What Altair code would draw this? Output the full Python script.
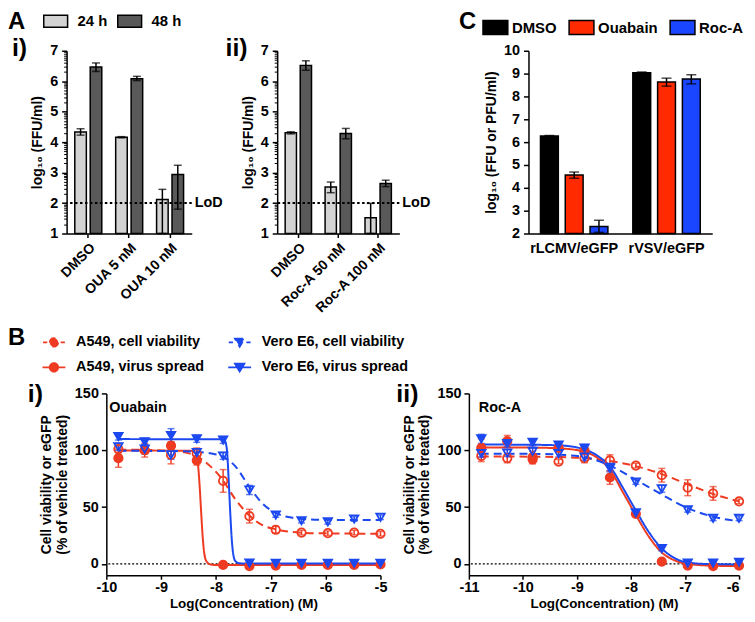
import math
import altair as alt
import pandas as pd

FONT = "Liberation Sans"
RED = "#EE3B22"
BLUE = "#1C48F0"
C_RED = "#FF2A00"
C_BLUE = "#1B46FF"
LIGHT = "#D3D3D3"
DARK = "#595959"

# ---------------- Panel A data ----------------
a_times = ["24 h", "48 h"]
a1_cats = ["DMSO", "OUA 5 nM", "OUA 10 nM"]
a1_24 = [4.33, 4.16, 2.12]
a1_24_lo = [4.23, 4.14, 1.00]
a1_24_hi = [4.44, 4.18, 2.45]
a1_48 = [6.47, 6.08, 2.94]
a1_48_lo = [6.32, 6.02, 1.80]
a1_48_hi = [6.60, 6.16, 3.24]

a2_cats = ["DMSO", "Roc-A 50 nM", "Roc-A 100 nM"]
a2_24 = [4.31, 2.53, 1.52]
a2_24_lo = [4.27, 2.34, 1.00]
a2_24_hi = [4.34, 2.69, 1.99]
a2_48 = [6.52, 4.28, 2.64]
a2_48_lo = [6.36, 4.11, 2.54]
a2_48_hi = [6.67, 4.45, 2.75]

a_lod = [2]
a_major = [1, 2, 3, 4, 5, 6, 7]
a_minor = [n + math.log10(k) for n in range(1, 7) for k in range(2, 10)]

# ---------------- Panel C data ----------------
c_viruses = ["rLCMV/eGFP", "rVSV/eGFP"]
c_treat = ["DMSO", "Ouabain", "Roc-A"]
c_lcmv = [6.27, 4.56, 2.31]
c_lcmv_lo = [6.25, 4.42, 2.05]
c_lcmv_hi = [6.29, 4.69, 2.58]
c_vsv = [9.04, 8.63, 8.76]
c_vsv_lo = [9.01, 8.45, 8.55]
c_vsv_hi = [9.07, 8.80, 8.95]
c_major = [2, 3, 4, 5, 6, 7, 8, 9, 10]

# ---------------- Panel B data ----------------
# legend is filled column by column: A549 entries left, Vero E6 entries right
b_series = ["A549, cell viability", "A549, virus spread",
            "Vero E6, cell viability", "Vero E6, virus spread"]
b_colors = [RED, RED, BLUE, BLUE]
b_fills = ["transparent", RED, "transparent", BLUE]
b_dashes = [[8, 5], [1, 0], [8, 5], [1, 0]]

oua_x = [-9.78, -9.30, -8.82, -8.35, -7.87, -7.39, -6.91, -6.44, -5.96, -5.48, -5.00]
oua_a549_viab = [101, 100, 96, 97, 73, 42, 30, 27.5, 27, 27.5, 26.5]
oua_a549_viab_err = [3, 6, 8, 5, 10, 6, 3, 2, 2, 2, 2]
oua_vero_viab = [103, 101, 96, 98, 95, 65, 43, 38, 37, 39.5, 41]
oua_vero_viab_err = [3, 4, 4, 3, 3, 4, 2, 2, 2, 2, 2]
oua_a549_spread = [93, 100, 104, 91, -1, -2, -1.5, -1, -1, -1, -0.5]
oua_a549_spread_err = [8, 3, 3, 4, 1, 1, 1, 1, 1, 1, 1]
oua_vero_spread = [112, 107.5, 113, 110, 109, 0.6, 0.5, 0.5, 0.5, 0.5, 0.5]
oua_vero_spread_err = [3, 3, 6, 3, 3, 1, 1, 1, 1, 1, 1]

# fitted curves (x, y)
oua_fit_a549_viab_x = [-9.78, -9.30, -8.84, -8.60, -8.37, -8.14, -7.88, -7.65, -7.40, -7.17, -6.92, -6.60, -6.20, -5.00]
oua_fit_a549_viab_y = [100.5, 100.3, 99.6, 98.5, 95, 87.5, 74, 57, 43, 34.5, 30.5, 28, 27, 26.5]
oua_fit_vero_viab_x = [-9.78, -8.60, -8.37, -8.10, -7.88, -7.65, -7.40, -7.17, -6.92, -6.60, -6.20, -5.00]
oua_fit_vero_viab_y = [99.5, 99.2, 98.6, 97.3, 94.5, 86, 68.5, 54, 45, 40.5, 38.9, 38.5]
oua_fit_a549_spread_x = [-9.78, -8.50, -8.40, -8.36, -8.33, -8.30, -8.27, -8.24, -8.21, -8.17, -8.10, -8.00, -5.00]
oua_fit_a549_spread_y = [99.7, 99.6, 98.8, 96, 88, 70, 45, 22, 8, 2, -0.5, -1, -1]
oua_fit_vero_spread_x = [-9.78, -7.90, -7.84, -7.80, -7.77, -7.74, -7.71, -7.68, -7.64, -7.58, -7.50, -5.00]
oua_fit_vero_spread_y = [109.8, 109.6, 108.5, 100, 75, 45, 20, 7, 2, 0.6, 0.3, 0.3]

roc_x = [-10.77, -10.29, -9.82, -9.34, -8.86, -8.39, -7.91, -7.43, -6.95, -6.48, -6.00]
roc_a549_viab = [95, 93, 94, 90, 93, 91, 86.5, 78, 67, 62, 55]
roc_a549_viab_err = [5, 4, 5, 2, 4, 5, 2, 6, 7, 6, 2]
roc_vero_viab = [97, 97.5, 99, 97, 94, 85, 72, 66, 47.5, 40, 40]
roc_vero_viab_err = [3, 3, 3, 3, 3, 3, 2, 3, 2, 2, 2]
roc_a549_spread = [102, 108, 92, 102, 100, 76, 44, 2, -1.5, -2, -1.5]
roc_a549_spread_err = [8, 5, 4, 3, 3, 6, 2, 1, 1, 1, 1]
roc_vero_spread = [110, 106, 107, 104.5, 102, 84, 45, 13.5, 0.6, 0.6, 1.4]
roc_vero_spread_err = [4, 3, 3, 3, 3, 3, 2, 2, 1, 1, 1]

roc_fit_x = [-10.78, -9.80, -9.30, -8.85, -8.60, -8.37, -8.15, -7.91, -7.67, -7.43, -7.19, -6.95, -6.50, -6.00]
roc_fit_a549_spread_y = [102.5, 102.3, 101.6, 98.5, 92.5, 81.5, 63, 43, 24, 10, 3, 0, -1.6, -2]
roc_fit_vero_spread_y = [105, 104.8, 104.2, 100.5, 94.5, 84.5, 67, 47, 28, 13.5, 5, 1.2, -0.3, -0.5]
roc_fit_viab_x = [-10.78, -9.80, -9.30, -8.86, -8.39, -7.91, -7.43, -6.95, -6.48, -6.00]
roc_fit_a549_viab_y = [94.5, 94.3, 94, 93, 90.5, 86, 79, 70, 61.5, 55]
roc_fit_vero_viab_y = [97, 96.8, 96, 94, 86.5, 74, 61, 49, 41.5, 37.5]


def panel_label(text, x, y, size=25):
    return alt.Chart(pd.DataFrame({"t": [text]})).mark_text(
        text=text, font=FONT, fontSize=size, fontWeight="bold",
        align="left", baseline="alphabetic", color="black"
    ).encode(x=alt.value(x), y=alt.value(y))


def rect_path(w, h):
    return "M-%s,-%s H%s V%s H-%s Z" % (w, h, w, h, w)


# ---------------- Panel A ----------------
def a_panel(cats, v24, lo24, hi24, v48, lo48, hi48, width, labels, legend):
    rows = []
    for i, c in enumerate(cats):
        rows.append({"cat": c, "time": a_times[0], "v": v24[i], "lo": lo24[i], "hi": hi24[i]})
        rows.append({"cat": c, "time": a_times[1], "v": v48[i], "lo": lo48[i], "hi": hi48[i]})
    df = pd.DataFrame(rows)
    yscale = alt.Scale(domain=[1, 7], nice=False, zero=False)
    yaxis = alt.Axis(values=a_major, title="log₁₀ (FFU/ml)", tickSize=5,
                     labelPadding=4, titlePadding=5, format="d")
    xaxis = alt.Axis(title=None, labelAngle=-45, labelAlign="right", labelBaseline="top",
                     tickSize=4, labelPadding=3, labelFontSize=14)
    xenc = alt.X("cat:N", sort=cats,
                 scale=alt.Scale(type="band", domain=cats, paddingInner=0.34, paddingOuter=0.2),
                 axis=xaxis)
    xoff = alt.XOffset("time:N", sort=a_times,
                       scale=alt.Scale(type="band", domain=a_times, paddingInner=0.25, paddingOuter=0))
    base = alt.Chart(df)
    bars = base.mark_bar(stroke="black", strokeWidth=1.5).encode(
        x=xenc, xOffset=xoff,
        y=alt.Y("v:Q", scale=yscale, axis=yaxis), y2=alt.datum(1),
        color=alt.Color("time:N", sort=a_times, scale=alt.Scale(domain=a_times, range=[LIGHT, DARK]),
                        legend=legend),
    )
    err = base.mark_rule(color="black", strokeWidth=1.5).encode(
        x=xenc, xOffset=xoff, y=alt.Y("lo:Q", scale=yscale, axis=None), y2="hi:Q")
    cap_lo = base.mark_tick(orient="horizontal", color="black", size=8, thickness=1.5).encode(
        x=xenc, xOffset=xoff, y=alt.Y("lo:Q", scale=yscale, axis=None))
    cap_hi = base.mark_tick(orient="horizontal", color="black", size=8, thickness=1.5).encode(
        x=xenc, xOffset=xoff, y=alt.Y("hi:Q", scale=yscale, axis=None))
    lod_df = pd.DataFrame({"lod": a_lod})
    lod = alt.Chart(lod_df).mark_rule(color="black", strokeWidth=2, strokeDash=[2.5, 2.5]).encode(
        y=alt.Y("lod:Q", scale=yscale,
                axis=alt.Axis(values=a_minor, labels=False, domain=False, tickSize=3,
                              tickWidth=1, title=None, orient="left")))
    lod_text = alt.Chart(lod_df).mark_text(
        text="LoD", align="left", baseline="middle", font=FONT, fontSize=14.5,
        fontWeight="bold", color="black"
    ).encode(x=alt.value(width + 3), y=alt.Y("lod:Q", scale=yscale, axis=None))
    layers = [bars, err, cap_lo, cap_hi, lod, lod_text] + labels
    return alt.layer(*layers).resolve_axis(y="independent").properties(width=width, height=184)


# drawn square 24x12 inside a 15px layout box
a_legend = alt.Legend(
    title=None, orient="none", legendX=-19.5, legendY=-38.5, direction="horizontal",
    symbolType=rect_path(1.6, 0.8), symbolSize=225, symbolStrokeColor="black", symbolStrokeWidth=1.5,
    labelFont=FONT, labelFontSize=15, labelFontWeight="bold", labelColor="black",
    labelOffset=13.5, columnPadding=6.5, padding=0,
)

a_i = a_panel(a1_cats, a1_24, a1_24_lo, a1_24_hi, a1_48, a1_48_lo, a1_48_hi, 126,
              [panel_label("A", -59, -22, 24), panel_label("i)", -55, 5)], a_legend)
a_ii = a_panel(a2_cats, a2_24, a2_24_lo, a2_24_hi, a2_48, a2_48_lo, a2_48_hi, 123,
               [panel_label("ii)", -52, 5)], None)

# ---------------- Panel C ----------------
c_rows = []
for i, t in enumerate(c_treat):
    c_rows.append({"virus": c_viruses[0], "treat": t, "v": c_lcmv[i], "lo": c_lcmv_lo[i], "hi": c_lcmv_hi[i]})
for i, t in enumerate(c_treat):
    c_rows.append({"virus": c_viruses[1], "treat": t, "v": c_vsv[i], "lo": c_vsv_lo[i], "hi": c_vsv_hi[i]})
c_df = pd.DataFrame(c_rows)
c_yscale = alt.Scale(domain=[2, 10], nice=False, zero=False)
c_yaxis = alt.Axis(values=c_major, title="log₁₀ (FFU or PFU/ml)", tickSize=5,
                   labelPadding=4, titlePadding=5, format="d")
c_xenc = alt.X("virus:N", sort=c_viruses,
               scale=alt.Scale(type="band", domain=c_viruses, paddingInner=0.27, paddingOuter=0.13),
               axis=alt.Axis(title=None, labelAngle=0, ticks=False, labelPadding=8))
c_xoff = alt.XOffset("treat:N", sort=c_treat,
                     scale=alt.Scale(type="band", domain=c_treat, paddingInner=0.28, paddingOuter=0))
c_legend = alt.Legend(
    title=None, orient="none", legendX=-42.3, legendY=-32.8, direction="horizontal",
    symbolType=rect_path(1.6, 0.9), symbolSize=244, symbolStrokeColor="black", symbolStrokeWidth=1.5,
    labelFont=FONT, labelFontSize=15, labelFontWeight="bold", labelColor="black",
    labelOffset=7.7, columnPadding=8.7, padding=0,
)
c_base = alt.Chart(c_df)
c_bars = c_base.mark_bar(stroke="black", strokeWidth=1.5).encode(
    x=c_xenc, xOffset=c_xoff,
    y=alt.Y("v:Q", scale=c_yscale, axis=c_yaxis),
    y2=alt.datum(2),
    color=alt.Color("treat:N", sort=c_treat,
                    scale=alt.Scale(domain=c_treat, range=["black", C_RED, C_BLUE]), legend=c_legend),
)
c_err = c_base.mark_rule(color="black", strokeWidth=1.5).encode(
    x=c_xenc, xOffset=c_xoff, y=alt.Y("lo:Q", scale=c_yscale, axis=c_yaxis), y2="hi:Q")
c_cap_lo = c_base.mark_tick(orient="horizontal", color="black", size=10, thickness=1.5).encode(
    x=c_xenc, xOffset=c_xoff, y=alt.Y("lo:Q", scale=c_yscale, axis=c_yaxis))
c_cap_hi = c_base.mark_tick(orient="horizontal", color="black", size=10, thickness=1.5).encode(
    x=c_xenc, xOffset=c_xoff, y=alt.Y("hi:Q", scale=c_yscale, axis=c_yaxis))
c_chart = alt.layer(c_bars, c_err, c_cap_lo, c_cap_hi, panel_label("C", -70, -22, 24)).properties(
    width=185, height=184)

# ---------------- Panel B ----------------
# legend symbols: marker with line stubs (dashed stubs for viability)
P_OC = "M-2.2,0H-1.35M1.35,0H2.2M-0.85,0A0.85,0.85,0,1,1,0.85,0A0.85,0.85,0,1,1,-0.85,0Z"
P_OT = "M-2.2,0H-1.35M1.35,0H2.2M-0.95,-0.75H0.95L0,0.85Z"
P_FC = "M-2.3,0H2.3M-0.85,0A0.85,0.85,0,1,1,0.85,0A0.85,0.85,0,1,1,-0.85,0Z"
P_FT = "M-2.3,0H2.3M-0.95,-0.75H0.95L0,0.85Z"
b_paths = [P_OC, P_FC, P_OT, P_FT]

b_legend = alt.Legend(
    title=None, orient="none", legendX=-60, legendY=-59, columns=2,
    symbolSize=100, symbolStrokeWidth=1.8,
    labelFont=FONT, labelFontSize=14.5, labelFontWeight="bold", labelColor="black",
    labelOffset=15, columnPadding=20, rowPadding=8.5, padding=0,
)

B_H = 183


def b_panel(xs, vals, errs, curves, domain, ticks, name, name_x, labels, legend, width, last_right):
    rows = []
    for s in b_series:
        for i, x in enumerate(xs):
            y = vals[s][i]
            e = errs[s][i]
            rows.append({"series": s, "x": x, "y": y, "lo": y - e, "hi": y + e})
    pdf = pd.DataFrame(rows)
    crows = []
    for s in b_series:
        cx, cy = curves[s]
        for x, y in zip(cx, cy):
            crows.append({"series": s, "x": x, "y": y})
    cdf = pd.DataFrame(crows)

    xscale = alt.Scale(domain=domain, nice=False, zero=False)
    yscale = alt.Scale(domain=[-10, 150], nice=False, zero=False)
    xaxis_kw = dict(values=ticks, title="Log(Concentration) (M)", tickSize=4, labelPadding=1,
                    titlePadding=3, titleFontSize=13.5,
                    labelExpr="datum.value < 0 ? '-' + abs(datum.value) : '' + datum.value")
    if last_right:
        xaxis_kw["labelAlign"] = {"condition": {"test": "datum.value == %d" % domain[1], "value": "right"},
                                  "value": "center"}
    xaxis = alt.Axis(**xaxis_kw)
    yaxis = alt.Axis(values=[0, 50, 100, 150], title=["Cell viability or eGFP", "(% of vehicle treated)"],
                     tickSize=5, labelPadding=3, titlePadding=5, titleLineHeight=16)
    X = alt.X("x:Q", scale=xscale, axis=xaxis)
    Y = alt.Y("y:Q", scale=yscale, axis=yaxis)
    color_scale = alt.Scale(domain=b_series, range=b_colors)
    fill_scale = alt.Scale(domain=b_series, range=b_fills)
    stroke = alt.Stroke("series:N", sort=b_series, scale=color_scale, legend=None)
    base = alt.Chart(pdf)

    def col(lg):
        return alt.Color("series:N", sort=b_series, scale=color_scale, legend=lg)

    def fil(lg):
        return alt.Fill("series:N", sort=b_series, scale=fill_scale, legend=lg)

    layers = []
    if legend is not None:
        ghost = base.transform_filter("false").mark_point(size=100, strokeWidth=1.8, opacity=1).encode(
            x=X, y=Y, color=col(legend), fill=fil(legend),
            shape=alt.Shape("series:N", sort=b_series,
                            scale=alt.Scale(domain=b_series, range=b_paths), legend=legend),
        )
        layers.append(ghost)

    zero = alt.Chart(pd.DataFrame({"z": [0]})).mark_rule(
        color="black", strokeDash=[2, 2], strokeWidth=1.2
    ).encode(y=alt.Y("z:Q", scale=yscale, axis=yaxis))
    lines = alt.Chart(cdf).mark_line(interpolate="monotone", strokeWidth=2).encode(
        x=X, y=Y, stroke=stroke,
        strokeDash=alt.StrokeDash("series:N", sort=b_series,
                                  scale=alt.Scale(domain=b_series, range=b_dashes), legend=None),
        detail="series:N",
    )
    err = base.mark_rule(strokeWidth=1.5).encode(
        x=X, y=alt.Y("lo:Q", scale=yscale, axis=yaxis), y2="hi:Q", stroke=stroke)
    cap_lo = base.mark_tick(orient="horizontal", size=7, thickness=1.5).encode(
        x=X, y=alt.Y("lo:Q", scale=yscale, axis=yaxis), color=col(None))
    cap_hi = base.mark_tick(orient="horizontal", size=7, thickness=1.5).encode(
        x=X, y=alt.Y("hi:Q", scale=yscale, axis=yaxis), color=col(None))
    pts_c = base.transform_filter("indexof(datum.series, 'A549') >= 0").mark_point(
        shape="circle", size=72, strokeWidth=1.8, opacity=1).encode(
        x=X, y=Y, color=col(None), fill=fil(None))
    pts_t = base.transform_filter("indexof(datum.series, 'Vero') >= 0").mark_point(
        shape="triangle-down", size=72, strokeWidth=1.8, opacity=1).encode(
        x=X, y=Y, color=col(None), fill=fil(None))
    name_txt = alt.Chart(pd.DataFrame({"t": [name]})).mark_text(
        text=name, align="left", baseline="alphabetic", font=FONT, fontSize=14.5,
        fontWeight="bold", color="black"
    ).encode(x=alt.value(name_x), y=alt.value(19))
    layers += [zero, lines, err, cap_lo, cap_hi, pts_c, pts_t, name_txt] + labels
    return alt.layer(*layers).properties(width=width, height=B_H)


def by_series(a, b, c, d):
    return {"A549, cell viability": a, "Vero E6, cell viability": b,
            "A549, virus spread": c, "Vero E6, virus spread": d}


b_i = b_panel(
    oua_x,
    by_series(oua_a549_viab, oua_vero_viab, oua_a549_spread, oua_vero_spread),
    by_series(oua_a549_viab_err, oua_vero_viab_err, oua_a549_spread_err, oua_vero_spread_err),
    by_series((oua_fit_a549_viab_x, oua_fit_a549_viab_y), (oua_fit_vero_viab_x, oua_fit_vero_viab_y),
              (oua_fit_a549_spread_x, oua_fit_a549_spread_y), (oua_fit_vero_spread_x, oua_fit_vero_spread_y)),
    [-10, -5], [-10, -9, -8, -7, -6, -5], "Ouabain", 3,
    [panel_label("B", -99, -49, 24), panel_label("i)", -79, 9)], b_legend, 276, False)

b_ii = b_panel(
    roc_x,
    by_series(roc_a549_viab, roc_vero_viab, roc_a549_spread, roc_vero_spread),
    by_series(roc_a549_viab_err, roc_vero_viab_err, roc_a549_spread_err, roc_vero_spread_err),
    by_series((roc_fit_viab_x, roc_fit_a549_viab_y), (roc_fit_viab_x, roc_fit_vero_viab_y),
              (roc_fit_x, roc_fit_a549_spread_y), (roc_fit_x, roc_fit_vero_spread_y)),
    [-11, -6], [-11, -10, -9, -8, -7, -6], "Roc-A", 10,
    [panel_label("ii)", -73, 9)], None, 272, True)


def spacer(w, h):
    return alt.Chart(pd.DataFrame({"s": [0]})).mark_point(opacity=0).encode(
        x=alt.X("s:Q", axis=None), y=alt.Y("s:Q", axis=None)).properties(width=w, height=h)


IND_S = dict(color="independent", fill="independent", shape="independent",
             stroke="independent", strokeDash="independent", xOffset="independent")
IND_L = dict(color="independent", fill="independent", shape="independent",
             stroke="independent", strokeDash="independent")

# rows: plot-area positions are fixed by flush bounds
top = alt.hconcat(a_i, spacer(46, 184), a_ii, spacer(90, 184), c_chart,
                  spacing=20, bounds="flush").resolve_scale(**IND_S).resolve_legend(**IND_L)
bottom = alt.hconcat(spacer(20, B_H), b_i, spacer(49, B_H), b_ii,
                     spacing=20, bounds="flush").resolve_scale(**IND_S).resolve_legend(**IND_L)

chart = alt.vconcat(top, bottom, spacing=345, bounds="flush").resolve_scale(**IND_S).resolve_legend(
    **IND_L).properties(padding=0, background="white").configure_view(stroke=None).configure_axis(
    domainColor="black", domainWidth=1.5, tickColor="black", tickWidth=1.5,
    labelColor="black", titleColor="black", labelFont=FONT, titleFont=FONT,
    labelFontWeight="bold", titleFontWeight="bold", labelFontSize=14.5, titleFontSize=14,
    grid=False, labelFlush=False, labelOverlap=False,
).configure_text(font=FONT)

chart.save("out.html", embed_options={"renderer": "svg", "actions": False})
